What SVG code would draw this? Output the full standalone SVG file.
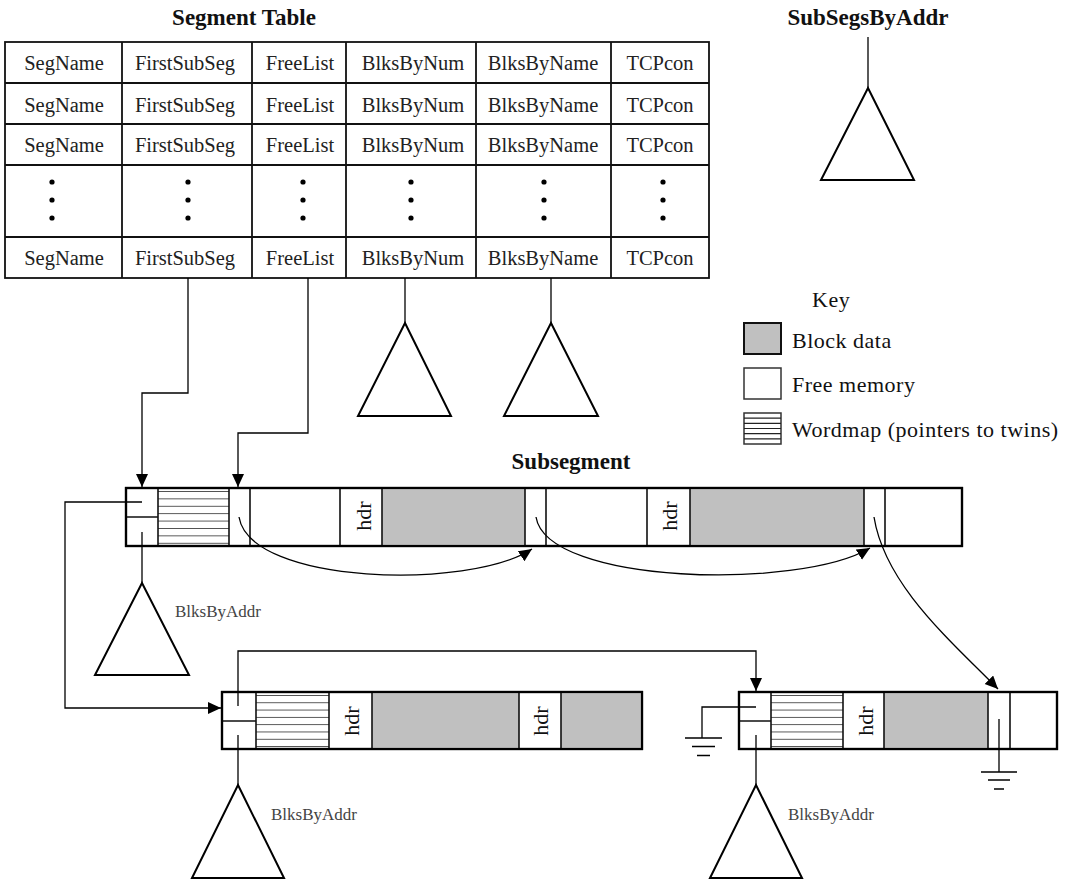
<svg xmlns="http://www.w3.org/2000/svg" width="1065" height="882" viewBox="0 0 1065 882">
  <defs>
    <marker id="arrow" markerUnits="userSpaceOnUse" markerWidth="14" markerHeight="13" refX="13" refY="6" orient="auto">
      <path d="M0,0 L13,6 L0,12 z" fill="#000"/>
    </marker>
    <pattern id="wordmap" patternUnits="userSpaceOnUse" x="0" y="491" width="10" height="7.4">
      <line x1="0" y1="0" x2="10" y2="0" stroke="#000" stroke-width="1.3"/>
    </pattern>
    <pattern id="wordmap2" patternUnits="userSpaceOnUse" x="0" y="695" width="10" height="7.3">
      <line x1="0" y1="0" x2="10" y2="0" stroke="#000" stroke-width="1.3"/>
    </pattern>
  </defs>
  <style>
    .cell { font-family: "Liberation Serif", "Times New Roman", serif; font-size: 20.5px; fill: #222; text-anchor: middle; }
    .title { font-family: "Liberation Serif", "Times New Roman", serif; font-size: 23px; font-weight: bold; fill: #111; text-anchor: middle; }
    .key { font-family: "Liberation Serif", "Times New Roman", serif; font-size: 22px; letter-spacing: 0.5px; fill: #111; }
    .hdr { font-family: "Liberation Serif", "Times New Roman", serif; font-size: 22px; fill: #111; text-anchor: middle; }
    .lbl { font-family: "Liberation Serif", "Times New Roman", serif; font-size: 17px; fill: #444; }
    .grid { stroke: #111; stroke-width: 1.8; fill: none; }
    .bar { stroke: #000; stroke-width: 2.2; fill: #fff; }
    .div { stroke: #111; stroke-width: 1.6; }
    .data { fill: #c0c0c0; }
    .tree { stroke: #000; stroke-width: 2; fill: #fff; stroke-linejoin: miter; }
    .wire { stroke: #000; stroke-width: 1.3; fill: none; }
    .dot { fill: #000; }
  </style>

  <!-- Segment table -->
  <g id="segment-table">
    <text class="title" x="244" y="25">Segment Table</text>
    <rect class="grid" x="5" y="42" width="704" height="236"/>
    <path class="grid" d="M5,83 H709 M5,124 H709 M5,165 H709 M5,237 H709 M122,42 V278 M252,42 V278 M346,42 V278 M476,42 V278 M611,42 V278"/>
    <g class="cell">
      <text x="64" y="70">SegName</text><text x="185" y="70">FirstSubSeg</text><text x="300" y="70">FreeList</text><text x="413" y="70">BlksByNum</text><text x="543" y="70">BlksByName</text><text x="660" y="70">TCPcon</text>
      <text x="64" y="111.5">SegName</text><text x="185" y="111.5">FirstSubSeg</text><text x="300" y="111.5">FreeList</text><text x="413" y="111.5">BlksByNum</text><text x="543" y="111.5">BlksByName</text><text x="660" y="111.5">TCPcon</text>
      <text x="64" y="152">SegName</text><text x="185" y="152">FirstSubSeg</text><text x="300" y="152">FreeList</text><text x="413" y="152">BlksByNum</text><text x="543" y="152">BlksByName</text><text x="660" y="152">TCPcon</text>
      <text x="64" y="265">SegName</text><text x="185" y="265">FirstSubSeg</text><text x="300" y="265">FreeList</text><text x="413" y="265">BlksByNum</text><text x="543" y="265">BlksByName</text><text x="660" y="265">TCPcon</text>
    </g>
    <g class="dot">
      <circle cx="52" cy="182" r="2.6"/><circle cx="52" cy="200" r="2.6"/><circle cx="52" cy="218" r="2.6"/>
      <circle cx="188" cy="182" r="2.6"/><circle cx="188" cy="200" r="2.6"/><circle cx="188" cy="218" r="2.6"/>
      <circle cx="303" cy="182" r="2.6"/><circle cx="303" cy="200" r="2.6"/><circle cx="303" cy="218" r="2.6"/>
      <circle cx="411" cy="182" r="2.6"/><circle cx="411" cy="200" r="2.6"/><circle cx="411" cy="218" r="2.6"/>
      <circle cx="544" cy="182" r="2.6"/><circle cx="544" cy="200" r="2.6"/><circle cx="544" cy="218" r="2.6"/>
      <circle cx="663" cy="182" r="2.6"/><circle cx="663" cy="200" r="2.6"/><circle cx="663" cy="218" r="2.6"/>
    </g>
  </g>

  <!-- SubSegsByAddr tree -->
  <g id="subsegs-by-addr">
    <text class="title" x="868" y="25">SubSegsByAddr</text>
    <line class="wire" x1="868" y1="37" x2="868" y2="88"/>
    <polygon class="tree" points="868,88 914,180 821,180"/>
  </g>

  <!-- Trees hanging off the table -->
  <g id="blks-by-num">
    <polygon class="tree" points="405,323 451,416 358,416"/>
  </g>
  <g id="blks-by-name">
    <polygon class="tree" points="551,323 598,416 504,416"/>
  </g>

  <!-- Key -->
  <g id="key">
    <text class="key" x="812" y="307">Key</text>
    <rect x="744" y="323" width="37" height="31" fill="#c0c0c0" stroke="#111" stroke-width="2"/>
    <text class="key" x="792" y="348">Block data</text>
    <rect x="744" y="368" width="37" height="31" fill="#fff" stroke="#333" stroke-width="1.5"/>
    <text class="key" x="792" y="392">Free memory</text>
    <rect x="744" y="413" width="37" height="31" fill="#fff" stroke="#333" stroke-width="1.5"/>
    <path d="M744,418.2 H781 M744,423.3 H781 M744,428.5 H781 M744,433.7 H781 M744,438.8 H781" stroke="#222" stroke-width="1.2"/>
    <text class="key" x="792" y="437">Wordmap (pointers to twins)</text>
  </g>

  <!-- Main subsegment -->
  <g id="subsegment">
    <text class="title" x="571" y="469">Subsegment</text>
    <rect class="bar" x="126" y="488" width="836" height="58"/>
    <rect x="158" y="488" width="71" height="58" fill="url(#wordmap)"/>
    <rect class="data" x="382" y="488" width="143" height="58"/>
    <rect class="data" x="690" y="488" width="174" height="58"/>
    <path class="div" d="M126,517 H158 M158,488 V546 M229,488 V546 M250,488 V546 M340,488 V546 M382,488 V546 M525,488 V546 M546,488 V546 M647,488 V546 M690,488 V546 M864,488 V546 M885,488 V546"/>
    <rect x="126" y="488" width="836" height="58" fill="none" stroke="#000" stroke-width="2.2"/>
    <text class="hdr" transform="translate(371,516) rotate(-90)">hdr</text>
    <text class="hdr" transform="translate(676.5,516) rotate(-90)">hdr</text>
    <line class="wire" x1="142" y1="532" x2="142" y2="583"/>
    <polygon class="tree" points="142,583 189,675 95,675"/>
    <text class="lbl" x="175" y="617">BlksByAddr</text>
  </g>

  <!-- Second subsegment -->
  <g id="subsegment-2">
    <rect class="bar" x="222" y="692" width="420" height="57"/>
    <rect x="256" y="692" width="73" height="57" fill="url(#wordmap2)"/>
    <rect class="data" x="372" y="692" width="147" height="57"/>
    <rect class="data" x="561" y="692" width="81" height="57"/>
    <path class="div" d="M222,721 H256 M256,692 V749 M329,692 V749 M372,692 V749 M519,692 V749 M561,692 V749"/>
    <rect x="222" y="692" width="420" height="57" fill="none" stroke="#000" stroke-width="2.2"/>
    <text class="hdr" transform="translate(359,721) rotate(-90)">hdr</text>
    <text class="hdr" transform="translate(548,721) rotate(-90)">hdr</text>
    <line class="wire" x1="238" y1="735" x2="238" y2="785"/>
    <polygon class="tree" points="238,785 284,878 192,878"/>
    <text class="lbl" x="271" y="820">BlksByAddr</text>
  </g>

  <!-- Third subsegment -->
  <g id="subsegment-3">
    <rect class="bar" x="739" y="692" width="318" height="57"/>
    <rect x="771" y="692" width="72" height="57" fill="url(#wordmap2)"/>
    <rect class="data" x="884" y="692" width="104" height="57"/>
    <path class="div" d="M739,721 H771 M771,692 V749 M843,692 V749 M884,692 V749 M988,692 V749 M1010,692 V749"/>
    <rect x="739" y="692" width="318" height="57" fill="none" stroke="#000" stroke-width="2.2"/>
    <text class="hdr" transform="translate(873,721) rotate(-90)">hdr</text>
    <line class="wire" x1="756" y1="735" x2="756" y2="785"/>
    <polygon class="tree" points="756,785 802,878 710,878"/>
    <text class="lbl" x="788" y="820">BlksByAddr</text>
    <!-- null pointers -->
    <path class="wire" d="M756,707 H702 V738 M685,738 H722 M692,746.5 H715 M697,755.5 H710"/>
    <path class="wire" d="M999,719 V772 M981,772 H1017 M988,780 H1010 M994,789 H1004"/>
  </g>

  <!-- Connectors -->
  <g id="connectors">
    <line class="wire" x1="405" y1="278" x2="405" y2="323"/>
    <line class="wire" x1="551" y1="278" x2="551" y2="323"/>
    <polyline class="wire" points="188,278 188,393 142,393 142,487" marker-end="url(#arrow)"/>
    <polyline class="wire" points="308,278 308,433 238,433 238,487" marker-end="url(#arrow)"/>
    <polyline class="wire" points="142,502 65,502 65,708 221,708" marker-end="url(#arrow)"/>
    <polyline class="wire" points="238,706 238,651 756,651 756,691" marker-end="url(#arrow)"/>
    <path class="wire" d="M239,517 C250,585 470,590 532,549" marker-end="url(#arrow)"/>
    <path class="wire" d="M536,517 C547,585 800,590 870,548" marker-end="url(#arrow)"/>
    <path class="wire" d="M874,517 C885,585 950,640 998,689" marker-end="url(#arrow)"/>
  </g>
</svg>
